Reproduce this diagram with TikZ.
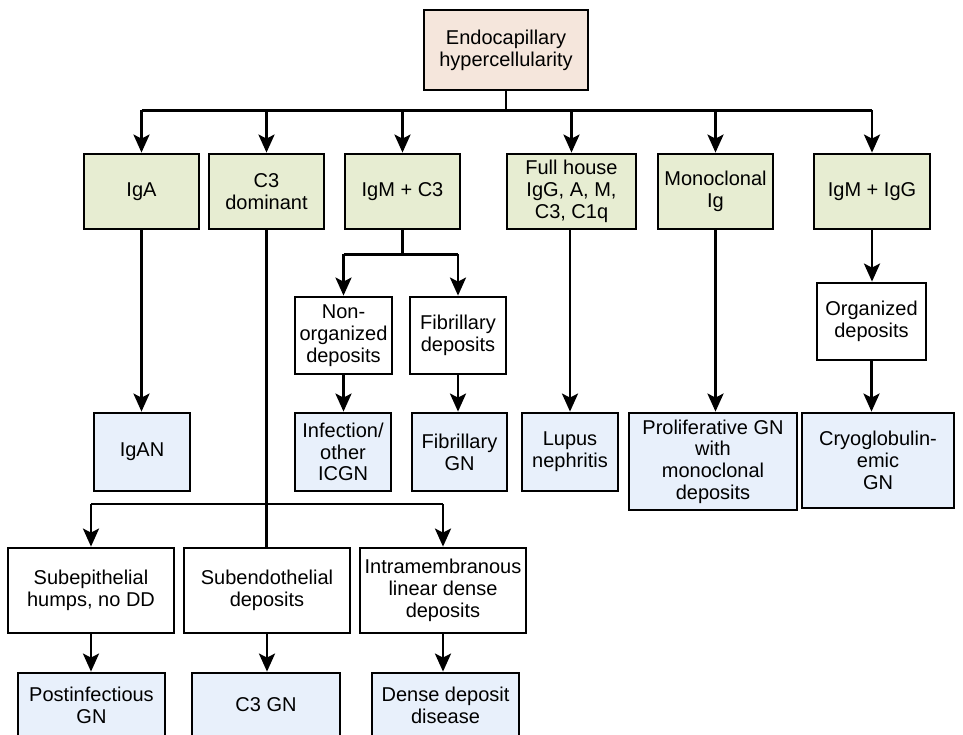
\documentclass[tikz,border=0pt]{standalone}
\usepackage{fontspec}
\setmainfont{Liberation Sans}
\usetikzlibrary{arrows.meta}
\definecolor{topfill}{HTML}{F5E6DC}
\definecolor{grnfill}{HTML}{E7EDD2}
\definecolor{bluefill}{HTML}{E8F0FB}
\tikzset{
  base/.style={draw=black, line width=2.8pt, rectangle, align=center, inner sep=2pt,
    font=\fontsize{20}{21.7}\selectfont},
  topbox/.style={base, fill=topfill},
  grnbox/.style={base, fill=grnfill},
  whtbox/.style={base, fill=white},
  blubox/.style={base, fill=bluefill},
  conn/.style={line width=2.8pt, line cap=butt},
  arr/.style={conn, -{Stealth[length=18pt, width=16pt, inset=4pt]}},
}
\begin{document}
\begin{tikzpicture}[x=1pt, y=-1pt]
\useasboundingbox (0,0) rectangle (963,734);
\clip (0,0) rectangle (963,734);
\fill[white] (0,0) rectangle (963,734);
% top
\node[topbox, minimum width=164, minimum height=80] (top) at (506,50) {Endocapillary\\hypercellularity};
% green row
\node[grnbox, minimum width=115, minimum height=75] (iga) at (141.5,191.5) {IgA};
\node[grnbox, minimum width=115, minimum height=75] (c3d) at (266.5,191.5) {C3\\dominant};
\node[grnbox, minimum width=115, minimum height=75] (igmc3) at (402.5,191.5) {IgM + C3};
\node[grnbox, minimum width=129, minimum height=75] (full) at (571.5,191.5) {Full house\\IgG, A, M,\\C3, C1q};
\node[grnbox, minimum width=115, minimum height=75] (mono) at (715.5,191.5) {Monoclonal\\Ig};
\node[grnbox, minimum width=116, minimum height=75] (igmigg) at (872,191.5) {IgM + IgG};
% middle white
\node[whtbox, minimum width=97, minimum height=77] (nonorg) at (343.5,335.5) {Non-\\organized\\deposits};
\node[whtbox, minimum width=96, minimum height=77] (fibdep) at (458,335.5) {Fibrillary\\deposits};
\node[whtbox, minimum width=109, minimum height=77] (org) at (871.5,321.5) {Organized\\deposits};
% blue row
\node[blubox, minimum width=96, minimum height=78] (igan) at (142,452) {IgAN};
\node[blubox, minimum width=96, minimum height=78] (infect) at (343,452) {Infection/\\other\\ICGN};
\node[blubox, minimum width=95, minimum height=78] (fibgn) at (459.5,452) {Fibrillary\\GN};
\node[blubox, minimum width=96, minimum height=78] (lupus) at (570,452) {Lupus\\nephritis};
\node[blubox, minimum width=168, minimum height=97] (prolif) at (713,461.5) {Proliferative GN\\with\\monoclonal\\deposits};
\node[blubox, minimum width=152, minimum height=95] (cryo) at (878,460.5) {Cryoglobulin-\\emic\\GN};
% lower white
\node[whtbox, minimum width=166, minimum height=85] (subepi) at (91,590.5) {Subepithelial\\humps, no DD};
\node[whtbox, minimum width=166, minimum height=85] (subendo) at (267,590.5) {Subendothelial\\deposits};
\node[whtbox, minimum width=166, minimum height=85] (intra) at (443,590.5) {Intramembranous\\linear dense\\deposits};
% bottom blue
\node[blubox, minimum width=147, minimum height=64] (postinf) at (91.5,705) {Postinfectious\\GN};
\node[blubox, minimum width=148, minimum height=64] (c3gn) at (266,705) {C3 GN};
\node[blubox, minimum width=147, minimum height=64] (dense) at (445.5,705) {Dense deposit\\disease};
% connectors: top bus
\draw[conn] (top.south) -- ++(0,19) coordinate (bus);
\draw[conn] (iga.north |- bus) -- (igmigg.north |- bus);
\foreach \n in {iga,c3d,igmc3,full,mono,igmigg}
  \draw[arr] (\n.north |- bus) -- (\n.north);
% IgA
\draw[arr] (iga.south) -- (iga.south |- igan.north);
% C3 dominant
\draw[conn] (c3d.south) -- (c3d.south |- subendo.north);
\coordinate (cbus) at (266.5,504);
\draw[conn] (subepi.north |- cbus) -- (intra.north |- cbus);
\draw[arr] (subepi.north |- cbus) -- (subepi.north);
\draw[arr] (intra.north |- cbus) -- (intra.north);
\draw[arr] (subepi.south) -- (subepi.south |- postinf.north);
\draw[arr] (subendo.south) -- (subendo.south |- c3gn.north);
\draw[arr] (intra.south) -- (intra.south |- dense.north);
% IgM + C3
\draw[conn] (igmc3.south) -- ++(0,24) coordinate (mbus);
\draw[conn] (nonorg.north |- mbus) -- (fibdep.north |- mbus);
\draw[arr] (nonorg.north |- mbus) -- (nonorg.north);
\draw[arr] (fibdep.north |- mbus) -- (fibdep.north);
\draw[arr] (nonorg.south) -- (nonorg.south |- infect.north);
\draw[arr] (fibdep.south) -- (fibdep.south |- fibgn.north);
% full house, monoclonal
\draw[arr] (full.south -| lupus.north) -- (lupus.north);
\draw[arr] (mono.south) -- (mono.south |- prolif.north);
% IgM + IgG
\draw[arr] (igmigg.south) -- (igmigg.south |- org.north);
\draw[arr] (org.south) -- (org.south |- cryo.north);
\end{tikzpicture}
\end{document}
